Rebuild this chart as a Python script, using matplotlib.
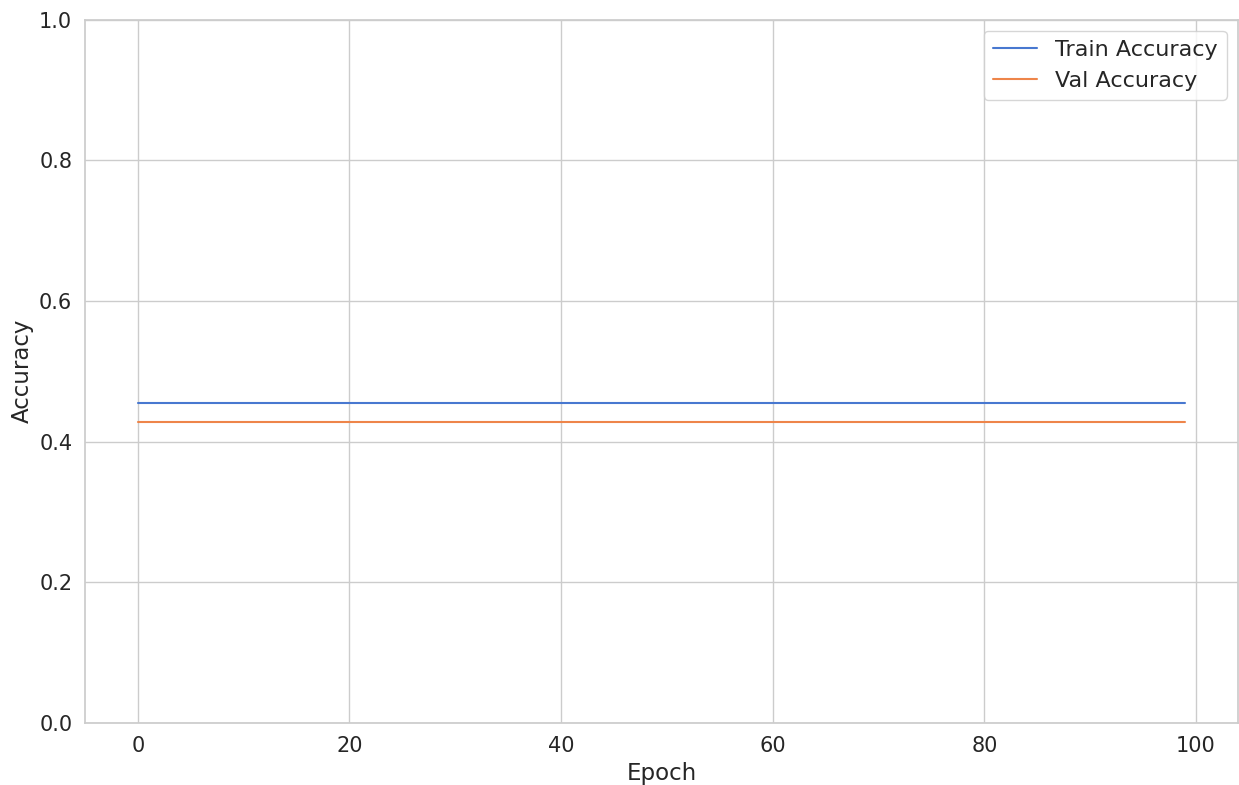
import matplotlib
matplotlib.use("Agg")
import matplotlib.pyplot as plt
import seaborn as sns

# accuracy per epoch (flat over all 100 epochs)
epochs = list(range(100))
train_acc = [0.455] * 100
val_acc = [0.428] * 100

sns.set_theme(style="whitegrid", palette="muted")
plt.rcParams["font.family"] = ["DejaVu Sans"]

fig, ax = plt.subplots(figsize=(12.39, 7.85), dpi=100)
ax.plot(epochs, train_acc, label="Train Accuracy", linewidth=1.5)
ax.plot(epochs, val_acc, label="Val Accuracy", linewidth=1.5)

ax.set_ylim(0, 1)
ax.set_xlabel("Epoch", fontsize=16.5)
ax.set_ylabel("Accuracy", fontsize=16.5)
ax.tick_params(labelsize=15)
ax.legend(fontsize=16, loc="upper right")

fig.subplots_adjust(left=0.069, right=0.999, top=0.975, bottom=0.079)
fig.savefig("out.png")
